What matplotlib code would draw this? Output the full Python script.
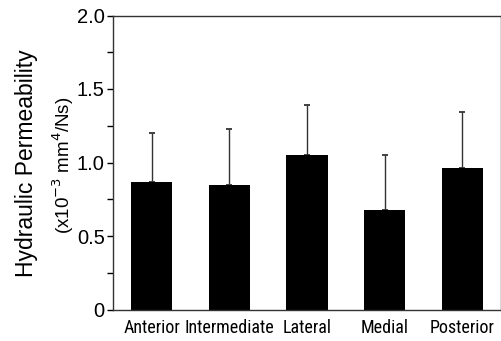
import numpy as np
import matplotlib.pyplot as plt
from matplotlib import font_manager
from matplotlib.ticker import MultipleLocator

regions = ["Anterior", "Intermediate", "Lateral", "Medial", "Posterior"]
means = [0.87, 0.85, 1.05, 0.68, 0.965]
sd = [0.33, 0.38, 0.34, 0.37, 0.38]

# pick a narrow font for the category labels if one is around
names = {f.name for f in font_manager.fontManager.ttflist}
narrow = None
for n in ["Liberation Sans Narrow", "Roboto Condensed", "Open Sans Condensed", "DejaVu Sans Condensed"]:
    if n in names:
        narrow = n
        break

fig = plt.figure(figsize=(5.02, 3.41), dpi=100)
ax = fig.add_axes([113 / 502, 1 - 309.5 / 341, 388 / 502, 294 / 341])

x = np.arange(len(regions))
ax.bar(x, means, width=0.53, color="black", zorder=2)
ax.errorbar(x, means, yerr=[np.zeros(len(sd)), sd], fmt="none", ecolor="#333333",
            elinewidth=1.0, capsize=2.5, capthick=1.3, zorder=1)

ax.set_xlim(-0.5, 4.5)
ax.set_ylim(0, 2.0)
ax.yaxis.set_minor_locator(MultipleLocator(0.25))
ax.set_yticks([0, 0.5, 1.0, 1.5, 2.0])
ax.set_yticklabels(["0", "0.5", "1.0", "1.5", "2.0"], fontsize=14.5, family="Liberation Sans")
ax.tick_params(axis="y", which="both", direction="out", length=4, width=1, pad=2)
ax.tick_params(axis="x", length=0, pad=7)
ax.set_xticks(x)
if narrow:
    ax.set_xticklabels(regions, fontsize=13, family=narrow)
else:
    ax.set_xticklabels(regions, fontsize=10, family="DejaVu Sans", fontstretch="condensed")

for s in ax.spines.values():
    s.set_linewidth(1.0)
    s.set_color("#333333")

fig.text(27 / 502, 1 - 163 / 341, "Hydraulic Permeability", rotation=90, ha="center", va="center",
         fontsize=16.5, family="Liberation Sans")
fig.text(63 / 502, 1 - 165 / 341, r"(x10$^{-3}$ mm$^{4}$/Ns)", rotation=90, ha="center", va="center",
         fontsize=13.5, family="Liberation Sans")

fig.savefig("out.png", dpi=100)
